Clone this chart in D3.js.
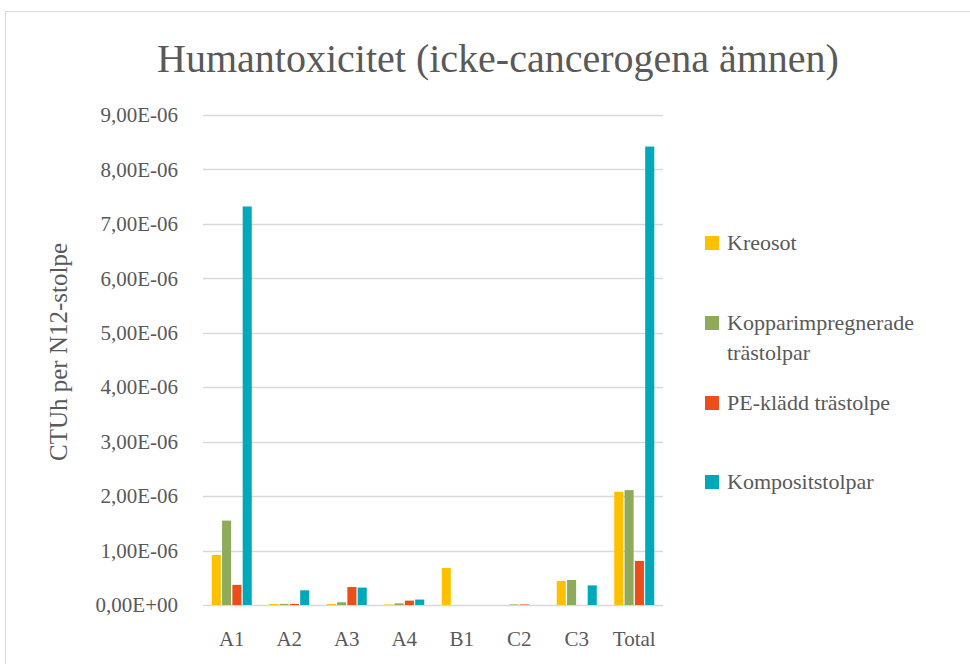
<!DOCTYPE html>
<html>
<head>
<meta charset="utf-8">
<script src="https://cdn.jsdelivr.net/npm/d3@7"></script>
<style>
  body { margin: 0; background: #fff; }
</style>
</head>
<body>
<div id="chart"></div>
<script>
// data
const categories = ["A1", "A2", "A3", "A4", "B1", "C2", "C3", "Total"];
const seriesNames = ["Kreosot", "Kopparimpregnerade trästolpar", "PE-klädd trästolpe", "Kompositstolpar"];
const seriesColors = ["#ffc000", "#8faa5a", "#e94e1b", "#00a9b9"];
const kreosot = [9.2e-7, 2e-8, 2e-8, 1e-8, 6.8e-7, 0, 4.4e-7, 2.08e-6];
const koppar = [1.55e-6, 2e-8, 5e-8, 3e-8, 0, 1e-8, 4.6e-7, 2.11e-6];
const peKladd = [3.7e-7, 2e-8, 3.3e-7, 8e-8, 0, 1e-8, 0, 8.1e-7];
const komposit = [7.32e-6, 2.7e-7, 3.2e-7, 1e-7, 0, 0, 3.6e-7, 8.42e-6];
const seriesValues = [kreosot, koppar, peKladd, komposit];
const yTicks = [0, 1e-6, 2e-6, 3e-6, 4e-6, 5e-6, 6e-6, 7e-6, 8e-6, 9e-6];

const FONT = "'Liberation Serif', 'DejaVu Serif', serif";
const TEXT_COLOR = "#595959";

const W = 970, H = 664;
const margin = { top: 115, right: 307, bottom: 58, left: 203 };
const width = W - margin.left - margin.right;
const height = H - margin.top - margin.bottom - 1;

const svg = d3.select("#chart").append("svg")
    .attr("width", W)
    .attr("height", H);

// outer chart border
svg.append("rect")
    .attr("x", 5.5).attr("y", 11.5)
    .attr("width", 1000).attr("height", 700)
    .attr("fill", "#fff")
    .attr("stroke", "#d9d9d9")
    .attr("stroke-width", 1);

// title
svg.append("text")
    .attr("x", 498)
    .attr("y", 72)
    .attr("text-anchor", "middle")
    .style("font-family", FONT)
    .style("fill", TEXT_COLOR)
    .style("font-size", "40px")
    .text("Humantoxicitet (icke-cancerogena ämnen)");

const g = svg.append("g")
    .attr("transform", `translate(${margin.left},${margin.top})`);

const x0 = d3.scaleBand()
    .domain(categories)
    .range([0, width])
    .paddingInner(0)
    .paddingOuter(0);

const x1 = d3.scaleBand()
    .domain(d3.range(seriesNames.length))
    .range([x0.bandwidth() * 0.152, x0.bandwidth() * 0.848])
    .paddingInner(0.12);

const y = d3.scaleLinear()
    .domain([0, 9e-6])
    .range([height, 0]);

const fmt = v => {
    const s = v.toExponential(2).replace(".", ",").toUpperCase();
    return s.replace(/E([+-])(\d)$/, "E$10$2");
};

// gridlines
g.append("g")
    .selectAll("line")
    .data(yTicks)
    .join("line")
    .attr("x1", 0)
    .attr("x2", width)
    .attr("y1", d => Math.round(y(d)) + 0.5)
    .attr("y2", d => Math.round(y(d)) + 0.5)
    .attr("stroke", "#d9d9d9")
    .attr("stroke-width", 1.5);

// y axis labels
const yAxis = d3.axisLeft(y)
    .tickValues(yTicks)
    .tickFormat(fmt)
    .tickSize(0)
    .tickPadding(25);
g.append("g")
    .call(yAxis)
    .call(s => s.select(".domain").remove())
    .selectAll("text")
    .style("font-size", "21px")
    .style("font-family", FONT)
    .style("fill", TEXT_COLOR);

// x axis labels
const xAxis = d3.axisBottom(x0).tickSize(0).tickPadding(26);
g.append("g")
    .attr("transform", `translate(0,${height})`)
    .call(xAxis)
    .call(s => s.select(".domain").remove())
    .selectAll("text")
    .style("font-size", "21px")
    .style("font-family", FONT)
    .style("fill", TEXT_COLOR);

// y axis title
svg.append("text")
    .attr("transform", "translate(67,352) rotate(-90)")
    .attr("text-anchor", "middle")
    .style("font-family", FONT)
    .style("fill", TEXT_COLOR)
    .style("font-size", "25px")
    .text("CTUh per N12-stolpe");

// bars
const groups = g.append("g")
    .selectAll("g")
    .data(categories)
    .join("g")
    .attr("transform", d => `translate(${x0(d)},0)`);

groups.selectAll("rect")
    .data((c, ci) => seriesValues.map((vals, si) => ({ si, v: vals[ci] })))
    .join("rect")
    .attr("x", d => x1(d.si))
    .attr("width", x1.bandwidth())
    .attr("y", d => y(d.v))
    .attr("height", d => height - y(d.v))
    .attr("fill", d => seriesColors[d.si]);

// legend
const legendBase = [250, 330, 410, 489];
const legend = svg.append("g")
    .selectAll("g")
    .data(seriesNames)
    .join("g")
    .attr("transform", (d, i) => `translate(705,${legendBase[i]})`);

legend.append("rect")
    .attr("x", 0).attr("y", -14)
    .attr("width", 14).attr("height", 14)
    .attr("fill", (d, i) => seriesColors[i]);

legend.each(function (d) {
    const t = d3.select(this).append("text")
        .attr("x", 22)
        .attr("y", 0)
        .style("font-family", FONT)
        .style("fill", TEXT_COLOR)
        .style("font-size", "22px");
    if (d === "Kopparimpregnerade trästolpar") {
        t.append("tspan").attr("x", 22).text("Kopparimpregnerade");
        t.append("tspan").attr("x", 22).attr("dy", 30).text("trästolpar");
    } else {
        t.text(d);
    }
});
</script>
</body>
</html>
